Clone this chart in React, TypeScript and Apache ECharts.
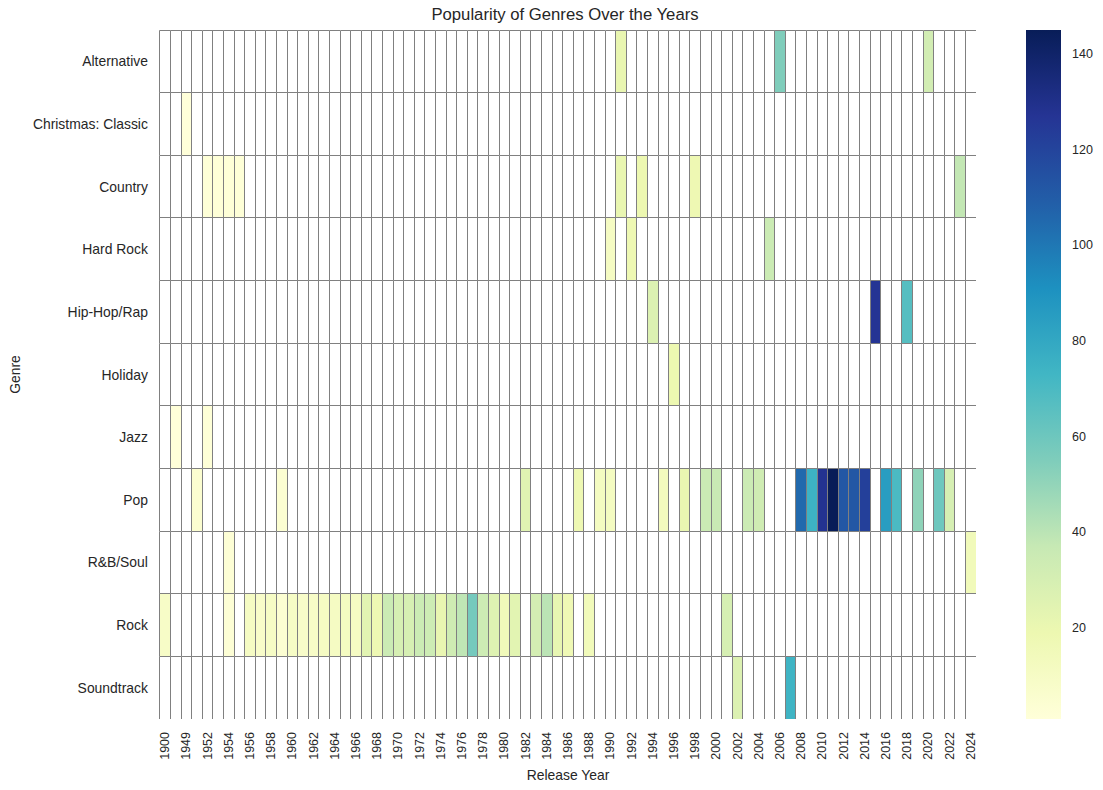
import React, { useEffect, useRef } from "react";
import * as echarts from "echarts";

const years: number[] = [
  1900, 1945, 1949, 1951, 1952, 1953, 1954, 1955, 1956, 1957, 1958, 1959, 1960,
  1961, 1962, 1963, 1964, 1965, 1966, 1967, 1968, 1969, 1970, 1971, 1972, 1973,
  1974, 1975, 1976, 1977, 1978, 1979, 1980, 1981, 1982, 1983, 1984, 1985, 1986,
  1987, 1988, 1989, 1990, 1991, 1992, 1993, 1994, 1995, 1996, 1997, 1998, 1999,
  2000, 2001, 2002, 2003, 2004, 2005, 2006, 2007, 2008, 2009, 2010, 2011, 2012,
  2013, 2014, 2015, 2016, 2017, 2018, 2019, 2020, 2021, 2022, 2023, 2024,
];

const genres: string[] = [
  "Alternative",
  "Christmas: Classic",
  "Country",
  "Hard Rock",
  "Hip-Hop/Rap",
  "Holiday",
  "Jazz",
  "Pop",
  "R&B/Soul",
  "Rock",
  "Soundtrack",
];

// [release year, popularity]
const alternative: [number, number][] = [[1991, 21], [2006, 55], [2020, 32]];
const christmasClassic: [number, number][] = [[1949, 1]];
const country: [number, number][] = [
  [1952, 2], [1953, 2], [1954, 2], [1955, 2], [1991, 21], [1993, 19], [1998, 18], [2023, 38],
];
const hardRock: [number, number][] = [[1990, 11], [1992, 18], [2005, 35]];
const hipHopRap: [number, number][] = [[1994, 27], [2015, 127], [2018, 67]];
const holiday: [number, number][] = [[1996, 19]];
const jazz: [number, number][] = [[1945, 1], [1952, 2]];
const pop: [number, number][] = [
  [1951, 5], [1959, 4], [1982, 25], [1987, 18], [1989, 12], [1990, 12], [1995, 13],
  [1997, 21], [1999, 35], [2000, 36], [2003, 35], [2004, 33], [2008, 105], [2009, 75],
  [2010, 128], [2011, 145], [2012, 112], [2013, 112], [2014, 122], [2016, 85],
  [2017, 70], [2019, 51], [2021, 60], [2022, 30],
];
const rbSoul: [number, number][] = [[1954, 3], [2024, 15]];
const rock: [number, number][] = [
  [1900, 9], [1954, 3], [1956, 11], [1957, 8], [1958, 10], [1959, 4], [1960, 10],
  [1961, 8], [1962, 9], [1963, 11], [1964, 11], [1965, 12], [1966, 11], [1967, 24],
  [1968, 18], [1969, 35], [1970, 30], [1971, 30], [1972, 35], [1973, 34], [1974, 21],
  [1975, 33], [1976, 39], [1977, 58], [1978, 34], [1979, 26], [1980, 15], [1981, 24],
  [1983, 31], [1984, 40], [1985, 22], [1986, 17], [1988, 15], [2001, 30],
];
const soundtrack: [number, number][] = [[2002, 27], [2007, 74]];

const colorbarTicks: number[] = [20, 40, 60, 80, 100, 120, 140];

const ylgnbu: string[] = [
  "#ffffd9", "#edf8b1", "#c7e9b4", "#7fcdbb", "#41b6c4",
  "#1d91c0", "#225ea8", "#253494", "#081d58",
];

const seriesByGenre: [number, number][][] = [
  alternative, christmasClassic, country, hardRock, hipHopRap, holiday,
  jazz, pop, rbSoul, rock, soundtrack,
];

const FONT = "'Liberation Sans', Arial, Helvetica, sans-serif";
const TEXT = "#262626";

export default function App() {
  const ref = useRef<HTMLDivElement>(null);

  useEffect(() => {
    document.body.style.margin = "0";
    if (!ref.current) return;
    const chart = echarts.init(ref.current, null, { renderer: "svg" });

    const cells: number[][] = [];
    seriesByGenre.forEach((arr, gi) => {
      arr.forEach(([yr, v]) => {
        const xi = years.indexOf(yr);
        if (xi >= 0) cells.push([xi, gi, v]);
      });
    });
    const allVals = cells.map((c) => c[2]);
    const vMin = Math.min(...allVals);
    const vMax = Math.max(...allVals);
    const colorOf = (v: number) =>
      echarts.color.lerp((v - vMin) / (vMax - vMin), ylgnbu) as string;

    const gridCells: number[][] = [];
    for (let gi = 0; gi < genres.length; gi++) {
      for (let xi = 0; xi < years.length; xi++) gridCells.push([xi, gi]);
    }

    const snap = (v: number) => Math.round(v - 0.5) + 0.5;

    const option: any = {
      animation: false,
      backgroundColor: "#ffffff",
      textStyle: { fontFamily: FONT },
      title: {
        text: "Popularity of Genres Over the Years",
        left: 565,
        textAlign: "center",
        top: 6,
        padding: 0,
        textStyle: { fontFamily: FONT, fontSize: 16.7, fontWeight: "normal", color: TEXT },
      },
      grid: [
        { left: 154, top: 30, width: 822, height: 689, containLabel: false },
        { left: 1026, top: 30, width: 35, height: 689, containLabel: false },
      ],
      xAxis: [
        {
          type: "category",
          gridIndex: 0,
          data: years.map(String),
          position: "bottom",
          boundaryGap: true,
          axisLine: { show: false },
          axisTick: { show: false },
          splitLine: { show: false },
          axisLabel: {
            interval: 1,
            rotate: 90,
            margin: 13,
            fontSize: 12.5,
            color: TEXT,
            fontFamily: FONT,
          },
          name: "Release Year",
          nameLocation: "middle",
          nameGap: 47,
          nameTextStyle: { fontSize: 13.9, color: TEXT, fontFamily: FONT },
        },
        {
          type: "value",
          gridIndex: 1,
          min: 0,
          max: 1,
          show: false,
        },
      ],
      yAxis: [
        {
          type: "category",
          gridIndex: 0,
          data: genres,
          inverse: true,
          boundaryGap: true,
          axisLine: { show: false },
          axisTick: { show: false },
          splitLine: { show: false },
          axisLabel: { margin: 12, fontSize: 13.9, color: TEXT, fontFamily: FONT },
          name: "Genre",
          nameLocation: "middle",
          nameRotate: 90,
          nameGap: 131,
          nameTextStyle: { fontSize: 13.9, color: TEXT, fontFamily: FONT },
        },
        {
          type: "value",
          gridIndex: 1,
          min: vMin,
          max: vMax,
          position: "right",
          splitLine: { show: false },
          axisLine: { show: false },
          axisTick: {
            show: true,
            length: 4,
            customValues: colorbarTicks,
            lineStyle: { color: TEXT, width: 1 },
          },
          axisLabel: {
            customValues: colorbarTicks,
            margin: 11,
            fontSize: 12.5,
            color: TEXT,
            fontFamily: FONT,
          },
        },
      ],
      series: [
        {
          type: "custom",
          xAxisIndex: 0,
          yAxisIndex: 0,
          data: cells,
          z: 2,
          renderItem: (_params: any, api: any) => {
            const c = api.coord([api.value(0), api.value(1)]);
            const s = api.size([1, 1]);
            const x0 = c[0] - s[0] / 2;
            const y0 = c[1] - s[1] / 2;
            return {
              type: "rect",
              shape: { x: x0, y: y0, width: s[0], height: s[1] },
              style: { fill: colorOf(api.value(2)), stroke: null },
            };
          },
        },
        {
          type: "custom",
          xAxisIndex: 0,
          yAxisIndex: 0,
          data: gridCells,
          z: 3,
          silent: true,
          renderItem: (_params: any, api: any) => {
            const c = api.coord([api.value(0), api.value(1)]);
            const s = api.size([1, 1]);
            const x0 = snap(c[0] - s[0] / 2);
            const y0 = snap(c[1] - s[1] / 2);
            const x1 = c[0] + s[0] / 2;
            const y1 = c[1] + s[1] / 2;
            const st = { stroke: "#808080", lineWidth: 1 };
            return {
              type: "group",
              children: [
                { type: "line", shape: { x1: x0, y1: y0, x2: x1, y2: y0 }, style: st },
                { type: "line", shape: { x1: x0, y1: y0, x2: x0, y2: y1 }, style: st },
              ],
            };
          },
        },
        {
          type: "custom",
          xAxisIndex: 1,
          yAxisIndex: 1,
          data: [[0, vMin]],
          silent: true,
          renderItem: (_params: any, api: any) => {
            const top = api.coord([0, vMax]);
            const bottom = api.coord([1, vMin]);
            const stops = ylgnbu
              .slice()
              .reverse()
              .map((c, i) => ({ offset: i / (ylgnbu.length - 1), color: c }));
            return {
              type: "rect",
              shape: {
                x: top[0],
                y: top[1],
                width: bottom[0] - top[0],
                height: bottom[1] - top[1],
              },
              style: {
                fill: { type: "linear", x: 0, y: 0, x2: 0, y2: 1, colorStops: stops },
              },
            };
          },
        },
      ],
    };

    chart.setOption(option);
    return () => chart.dispose();
  }, []);

  return <div ref={ref} style={{ width: 1103, height: 790 }} />;
}
